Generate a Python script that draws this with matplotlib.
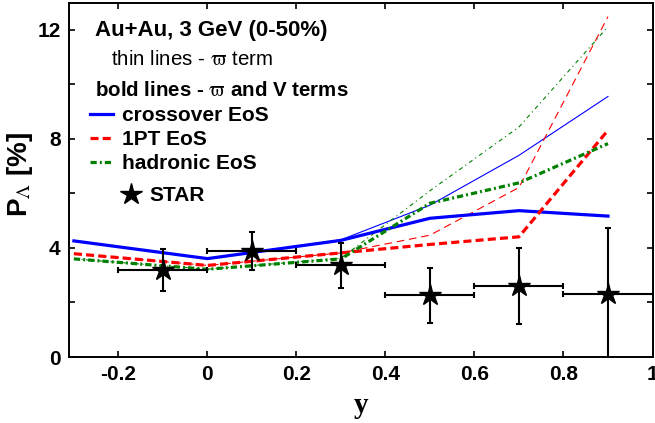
import matplotlib
matplotlib.use("Agg")
import matplotlib.pyplot as plt
from matplotlib.ticker import MultipleLocator, FixedLocator

plt.rcParams['font.family'] = ['Liberation Sans', 'DejaVu Sans']
plt.rcParams['mathtext.fontset'] = 'stix'
plt.rcParams['lines.scale_dashes'] = False

# Model rapidity grid
y_model = [-0.3, 0.0, 0.3, 0.5, 0.7, 0.9]

# bold lines: vorticity + V terms
cross_bold = [4.26, 3.61, 4.28, 5.09, 5.37, 5.17]
pt1_bold = [3.79, 3.36, 3.82, 4.13, 4.41, 8.32]
hadr_bold = [3.60, 3.22, 3.60, 5.64, 6.39, 7.83]

# thin lines: vorticity term only
cross_thin = [4.26, 3.61, 4.30, 5.57, 7.40, 9.56]
pt1_thin = [3.79, 3.36, 3.82, 4.47, 6.22, 12.49]
hadr_thin = [3.60, 3.22, 3.62, 6.10, 8.44, 12.12]

# STAR measurement
star_y = [-0.1, 0.1, 0.3, 0.5, 0.7, 0.9]
star_p = [3.19, 3.89, 3.37, 2.26, 2.60, 2.30]
star_err = [0.77, 0.68, 0.82, 1.00, 1.39, 2.42]
star_yerr = [0.1, 0.1, 0.1, 0.1, 0.1, 0.1]

x_ticks = [-0.2, 0, 0.2, 0.4, 0.6, 0.8, 1]
x_labels = ['-0.2', '0', '0.2', '0.4', '0.6', '0.8', '1']
y_ticks = [0, 4, 8, 12]

BLUE = '#0000ff'
RED = '#ff0000'
GREEN = '#008000'

fig = plt.figure(figsize=(6.55, 4.23), dpi=100)
ax = fig.add_axes([69 / 655, 66 / 423, 583.5 / 655, 354.3 / 423])

lw_b, lw_t = 2.3, 0.8
ax.plot(y_model, cross_thin, color=BLUE, lw=lw_t)
ax.plot(y_model, pt1_thin, color=RED, lw=lw_t, dashes=(5.5, 3.5))
ax.plot(y_model, hadr_thin, color=GREEN, lw=lw_t, dashes=(3.0, 2.5, 0.8, 2.5))

h_cross, = ax.plot(y_model, cross_bold, color=BLUE, lw=lw_b, label='crossover EoS')
h_pt1, = ax.plot(y_model, pt1_bold, color=RED, lw=lw_b, dashes=(5.8, 3.0), label='1PT EoS')
h_hadr, = ax.plot(y_model, hadr_bold, color=GREEN, lw=lw_b, dashes=(4.5, 2.2, 1.4, 2.2),
                  label='hadronic EoS')

ax.errorbar(star_y, star_p, yerr=star_err, xerr=star_yerr, fmt='none', ecolor='black',
            elinewidth=1.5, capsize=2.5, capthick=1.5, zorder=5)
h_star, = ax.plot(star_y, star_p, '*', color='black', ms=16, label='STAR', zorder=6)

ax.set_xlim(-0.311, 1.0)
ax.set_ylim(0, 13)
ax.xaxis.set_major_locator(FixedLocator(x_ticks))
ax.set_xticklabels(x_labels)
ax.yaxis.set_major_locator(FixedLocator(y_ticks))
ax.yaxis.set_minor_locator(MultipleLocator(2))
ax.tick_params(which='both', direction='in', top=True, right=True, width=1.2)
ax.tick_params(which='major', length=4.5, labelsize=15, pad=6)
ax.tick_params(which='minor', length=4.5)
for lab in ax.get_xticklabels() + ax.get_yticklabels():
    lab.set_fontweight('bold')
for sp in ax.spines.values():
    sp.set_linewidth(1.4)

ax.set_xlabel('y', family='Liberation Serif', fontweight='bold', fontsize=21)
ax.xaxis.set_label_coords(0.50, -0.098)
ax.set_ylabel(r'P$_{\Lambda}$ [%]', fontweight='bold', fontsize=20)
ax.yaxis.set_label_coords(-0.058, 0.514)

ax.text(0.0446, 0.906, 'Au+Au, 3 GeV (0-50%)', transform=ax.transAxes,
        fontsize=16, fontweight='bold', va='baseline')
ax.text(0.072, 0.824, r'thin lines - $\mathrm{\varpi}$ term', transform=ax.transAxes,
        fontsize=14.8, va='baseline')
ax.text(0.0446, 0.738, r'bold lines - $\mathrm{\varpi}$ and V terms', transform=ax.transAxes,
        fontsize=14.8, fontweight='bold', va='baseline')

leg1 = ax.legend(handles=[h_cross, h_pt1, h_hadr], loc='upper left',
                 bbox_to_anchor=(0.036, 0.708), frameon=False, borderpad=0,
                 borderaxespad=0, handlelength=1.12, handletextpad=0.42,
                 labelspacing=0.24, prop={'weight': 'bold', 'size': 15})
ax.add_artist(leg1)
ax.legend(handles=[h_star], loc='upper left', bbox_to_anchor=(0.09, 0.482),
          frameon=False, borderpad=0, borderaxespad=0, handlelength=0.9,
          handletextpad=0.45, prop={'weight': 'bold', 'size': 15})

fig.savefig('out.png', dpi=100)
